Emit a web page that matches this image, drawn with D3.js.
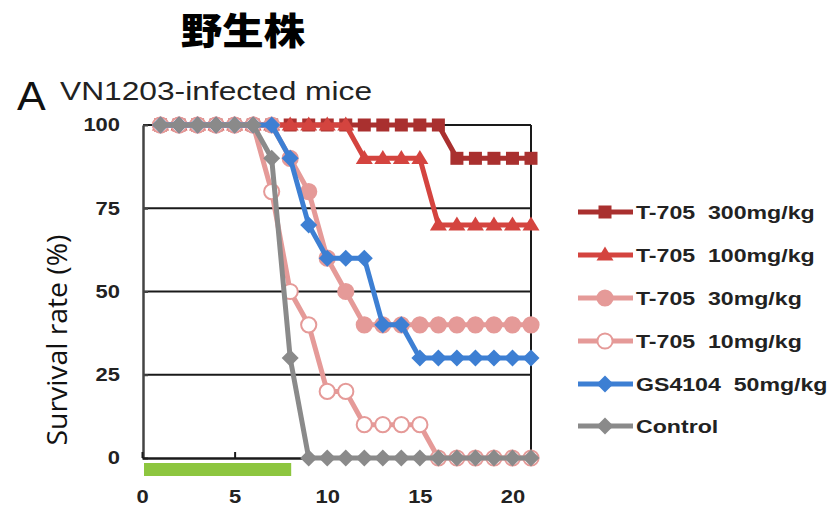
<!DOCTYPE html>
<html>
<head>
<meta charset="utf-8">
<script src="https://cdn.jsdelivr.net/npm/d3@7"></script>
<style>
  html, body { margin: 0; padding: 0; background: #fff; }
  svg { display: block; }
</style>
</head>
<body>
<svg id="chart" width="834" height="509"></svg>
<script>
// Survival of VN1203-infected mice by treatment group (days post infection)
const days = [1, 2, 3, 4, 5, 6, 7, 8, 9, 10, 11, 12, 13, 14, 15, 16, 17, 18, 19, 20, 21];
const t705_300 = [100, 100, 100, 100, 100, 100, 100, 100, 100, 100, 100, 100, 100, 100, 100, 100, 90, 90, 90, 90, 90];
const t705_100 = [100, 100, 100, 100, 100, 100, 100, 100, 100, 100, 100, 90, 90, 90, 90, 70, 70, 70, 70, 70, 70];
const t705_30  = [100, 100, 100, 100, 100, 100, 100, 90, 80, 60, 50, 40, 40, 40, 40, 40, 40, 40, 40, 40, 40];
const t705_10  = [100, 100, 100, 100, 100, 100, 80, 50, 40, 20, 20, 10, 10, 10, 10, 0, 0, 0, 0, 0, 0];
const gs4104   = [100, 100, 100, 100, 100, 100, 100, 90, 70, 60, 60, 60, 40, 40, 30, 30, 30, 30, 30, 30, 30];
const control  = [100, 100, 100, 100, 100, 100, 90, 30, 0, 0, 0, 0, 0, 0, 0, 0, 0, 0, 0, 0, 0];

const seriesNames = ["T-705  300mg/kg", "T-705  100mg/kg", "T-705  30mg/kg", "T-705  10mg/kg", "GS4104  50mg/kg", "Control"];
const xTicks = [0, 5, 10, 15, 20];
const yTicks = [0, 25, 50, 75, 100];
const dosingPeriod = [0, 8];

const styles = [
  { color: "#a9302f", marker: "square",   fill: "#a9302f" },
  { color: "#d4443f", marker: "triangle", fill: "#d4443f" },
  { color: "#e59a98", marker: "circle",   fill: "#e59a98" },
  { color: "#e59a98", marker: "circle",   fill: "#ffffff" },
  { color: "#3d7fd3", marker: "diamond",  fill: "#3d7fd3" },
  { color: "#8a8a8a", marker: "diamond",  fill: "#8a8a8a" }
];
const seriesValues = [t705_300, t705_100, t705_30, t705_10, gs4104, control];

// Labels are set in a horizontally widened face
const WIDE = 1.22;
const LABEL_FONT = "'Liberation Sans', Arial, sans-serif";

const svg = d3.select("#chart");
const x = d3.scaleLinear().domain([0, 21]).range([142, 531]);
const y = d3.scaleLinear().domain([0, 100]).range([458, 125]);

// Titles
svg.append("text").attr("transform", "translate(243,45) scale(1.12,1)").attr("text-anchor", "middle")
  .attr("font-family", "'Noto Sans CJK JP'").attr("font-weight", 900).attr("font-size", 37)
  .attr("fill", "#000").text("野生株");
svg.append("text").attr("transform", "translate(17,110) scale(1.05,1)")
  .attr("font-family", LABEL_FONT).attr("font-size", 41)
  .attr("fill", "#111").text("A");
svg.append("text").attr("transform", "translate(60,100) scale(1.22,1)")
  .attr("font-family", LABEL_FONT).attr("font-size", 26)
  .attr("fill", "#222").text("VN1203-infected mice");

// Gridlines
const grid = svg.append("g");
grid.selectAll("line").data(yTicks.filter(d => d > 0)).join("line")
  .attr("x1", x(0) + 1).attr("x2", x(21))
  .attr("y1", d => y(d)).attr("y2", d => y(d))
  .attr("stroke", "#1a1a1a").attr("stroke-width", 2);
// Right border
svg.append("line").attr("x1", x(21)).attr("x2", x(21)).attr("y1", y(100)).attr("y2", y(0))
  .attr("stroke", "#1a1a1a").attr("stroke-width", 2);

// Y axis
const yAxis = d3.axisLeft(y).tickValues(yTicks).tickSize(-5).tickSizeOuter(0);
const gy = svg.append("g").attr("transform", `translate(${x(0) + 1},0)`).call(yAxis);
gy.select(".domain").attr("stroke", "#444").attr("stroke-width", 2.5);
gy.selectAll(".tick line").attr("stroke", "#444").attr("stroke-width", 2);
gy.selectAll(".tick text").attr("x", 0).attr("transform", `translate(-23,0) scale(${WIDE},1)`)
  .attr("font-family", LABEL_FONT).attr("font-weight", "bold")
  .attr("font-size", 18).attr("fill", "#222");

// X axis
const xAxis = d3.axisBottom(x).tickValues(xTicks).tickSize(-6).tickSizeOuter(0);
const gx = svg.append("g").attr("transform", `translate(0,${y(0)})`).call(xAxis);
gx.select(".domain").attr("stroke", "#1a1a1a").attr("stroke-width", 2.5);
gx.selectAll(".tick line").attr("stroke", "#1a1a1a").attr("stroke-width", 2);
gx.selectAll(".tick text").attr("y", 0).attr("dy", "0").attr("transform", `translate(0,45) scale(${WIDE},1)`)
  .attr("font-family", LABEL_FONT).attr("font-weight", "bold")
  .attr("font-size", 18).attr("fill", "#222");

// Y axis title
svg.append("text").attr("transform", "translate(67,340) rotate(-90) scale(1.03,1)").attr("text-anchor", "middle")
  .attr("font-family", "'Open Sans', 'Noto Sans'").attr("font-size", 27.5).attr("fill", "#111")
  .text("Survival rate (%)");

// Treatment period bar
svg.append("rect").attr("x", x(dosingPeriod[0]) + 2).attr("y", 463)
  .attr("width", x(dosingPeriod[1]) - x(dosingPeriod[0]) - 1).attr("height", 13)
  .attr("fill", "#8dc63f");

function drawMarker(g, type, cx, cy, st) {
  if (type === "square") {
    const s = 13;
    g.append("rect").attr("x", cx - s / 2).attr("y", cy - s / 2).attr("width", s).attr("height", s)
      .attr("fill", st.fill);
  } else if (type === "triangle") {
    const w = 17, h = 14;
    g.append("path").attr("d", `M${cx},${cy - h * 0.6} L${cx + w / 2},${cy + h * 0.4} L${cx - w / 2},${cy + h * 0.4} Z`)
      .attr("fill", st.fill);
  } else if (type === "circle") {
    g.append("circle").attr("cx", cx).attr("cy", cy).attr("r", 7.6)
      .attr("fill", st.fill).attr("stroke", st.color).attr("stroke-width", 2);
  } else if (type === "diamond") {
    const r = 8.5;
    g.append("path").attr("d", `M${cx},${cy - r} L${cx + r},${cy} L${cx},${cy + r} L${cx - r},${cy} Z`)
      .attr("fill", st.fill);
  }
}

const line = d3.line().x(d => x(d[0])).y(d => y(d[1]));
seriesValues.forEach((vals, i) => {
  const st = styles[i];
  const pts = days.map((d, j) => [d, vals[j]]);
  const g = svg.append("g");
  g.append("path").attr("d", line(pts)).attr("fill", "none")
    .attr("stroke", st.color).attr("stroke-width", 5).attr("stroke-linejoin", "round");
  pts.forEach(p => drawMarker(g, st.marker, x(p[0]), y(p[1]), st));
});

// Legend
const legendY = [212, 255, 298, 341, 384, 426];
seriesNames.forEach((name, i) => {
  const st = styles[i];
  const g = svg.append("g");
  g.append("line").attr("x1", 578).attr("x2", 633).attr("y1", legendY[i]).attr("y2", legendY[i])
    .attr("stroke", st.color).attr("stroke-width", 5);
  drawMarker(g, st.marker, 605, legendY[i], st);
  g.append("text").attr("transform", `translate(636,${legendY[i] + 7}) scale(1.25,1)`)
    .attr("font-family", LABEL_FONT).attr("font-weight", "bold").attr("font-size", 18.5)
    .attr("fill", "#222").style("white-space", "pre").text(name);
});
</script>
</body>
</html>
